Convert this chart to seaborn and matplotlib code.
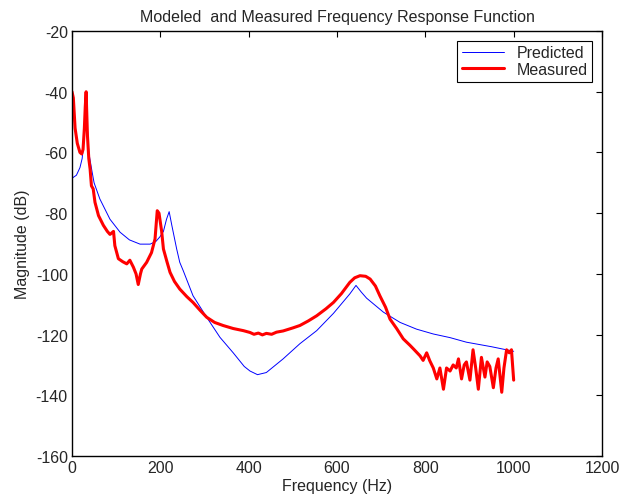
import numpy as np
import pandas as pd
import matplotlib
matplotlib.use("Agg")
import matplotlib.pyplot as plt
import seaborn as sns

pred_freq = [0, 10, 18, 23, 27, 30, 32, 34, 38, 45, 50, 63, 86, 109, 130, 154, 177, 190,
             199, 207, 214, 220, 226, 237, 244, 252, 274, 305, 335, 365, 390, 403, 420, 440,
             478, 516, 554, 592, 629, 643, 655, 667, 705, 743, 780, 818, 856, 893, 950, 1000]
pred_db = [-68.5, -67.5, -65, -62, -56, -48, -40, -50, -60, -66, -70, -75.3, -82, -86.3,
           -88.8, -90.2, -90.2, -89.3, -87.8, -86, -82, -79.5, -84, -91.8, -96.2, -99,
           -107.2, -114.3, -120.9, -126, -130.5, -132, -133.2, -132.5, -128, -123, -118.7,
           -113, -106.6, -103.8, -106, -108, -112.6, -116, -118.2, -119.8, -121, -122.5,
           -124, -125.5]

meas_freq = [0, 3, 7, 12, 18, 22, 25, 28, 30, 32, 33, 35, 38, 41, 44, 48, 52, 60, 71, 80,
             86, 94, 97, 105, 115, 124, 131, 139, 145, 150, 155, 158, 169, 180, 188, 193,
             197, 203, 207, 215, 222, 232, 244, 260, 274, 290, 305, 323, 342, 365, 388, 403,
             412, 422, 431, 440, 452, 463, 478, 500, 516, 535, 554, 575, 592, 610, 629, 640,
             652, 665, 675, 687, 697, 710, 720, 735, 750, 765, 773, 788, 795, 803, 810, 818,
             826, 833, 841, 848, 856, 863, 870, 875, 882, 888, 893, 901, 908, 914, 920, 927,
             935, 940, 946, 954, 960, 965, 973, 978, 984, 990, 995, 1000]
meas_db = [-40, -42, -52, -57, -60, -60.5, -59, -52, -45, -40, -45, -54.5, -62, -65.5, -71,
           -72, -76.4, -80.8, -84, -86, -87, -86, -90.7, -95, -96, -96.7, -95.5, -97.8, -100,
           -103.5, -100, -98.4, -96.2, -93, -88.5, -79.2, -80, -86, -91.8, -96, -99.5,
           -102.5, -105, -107.5, -109.4, -112, -114.3, -116, -117, -118, -118.7, -119.3,
           -119.9, -119.5, -120.1, -119.6, -119.9, -119.2, -118.8, -117.8, -117, -115.5,
           -113.8, -111.5, -109.4, -106.5, -102.8, -101.3, -100.6, -100.8, -101.7, -104,
           -107.2, -111, -114.9, -118, -121.4, -123.5, -124.7, -127, -128.5, -126, -128.6,
           -131, -134.6, -131, -138, -131, -132, -130, -131, -128, -134.6, -130, -129, -135,
           -125, -131, -138, -127.5, -134, -129, -130.5, -137.5, -131, -128, -139, -131,
           -125, -126, -125, -135]

x_ticks = [0, 200, 400, 600, 800, 1000, 1200]
y_ticks = [-160, -140, -120, -100, -80, -60, -40, -20]

sns.set_style("white")
plt.rcParams['font.family'] = ['Liberation Sans', 'DejaVu Sans']
plt.rcParams['xtick.direction'] = 'in'
plt.rcParams['ytick.direction'] = 'in'
plt.rcParams['axes.unicode_minus'] = False

fig = plt.figure(figsize=(6.25, 5.02), dpi=100)
ax = fig.add_axes([0.1152, 0.0896, 0.8480, 0.8466])

pred = pd.DataFrame({"f": pred_freq, "db": pred_db})
meas = pd.DataFrame({"f": meas_freq, "db": meas_db})

sns.lineplot(data=pred, x="f", y="db", ax=ax, color="#0000ff", linewidth=0.7,
             label="Predicted", sort=False, estimator=None)
sns.lineplot(data=meas, x="f", y="db", ax=ax, color="#ff0000", linewidth=2.2,
             label="Measured", sort=False, estimator=None)

ax.set_xlim(0, 1200)
ax.set_ylim(-160, -20)
ax.set_xticks(x_ticks)
ax.set_yticks(y_ticks)
ax.tick_params(axis='both', which='both', top=True, right=True, length=4, width=0.8,
               labelsize=11.5, color='black', pad=3)
for s in ax.spines.values():
    s.set_color('black')
    s.set_linewidth(1.0)

ax.set_xlabel("Frequency (Hz)", fontsize=11.5, labelpad=2)
ax.set_ylabel("Magnitude (dB)", fontsize=11.5, labelpad=4)
ax.set_title("Modeled  and Measured Frequency Response Function", fontsize=11.5, pad=7)

leg = ax.legend(loc="upper right", fontsize=11.5, frameon=True, fancybox=False,
                edgecolor='black', framealpha=1, borderpad=0.3, labelspacing=0.1,
                handlelength=2.6, handletextpad=0.8, borderaxespad=0.6)
leg.get_frame().set_linewidth(0.8)

fig.savefig("out.png", dpi=100, facecolor='white')
